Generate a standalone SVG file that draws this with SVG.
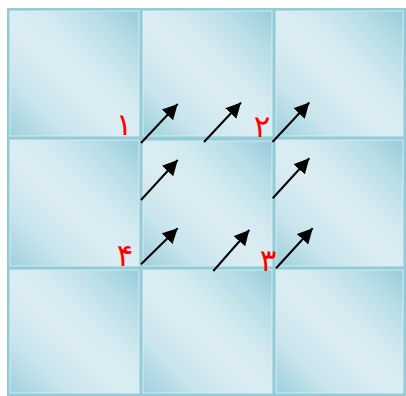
<svg xmlns="http://www.w3.org/2000/svg" width="406" height="396" viewBox="0 0 406 396">
  <defs>
    <linearGradient id="glass" x1="0" y1="1" x2="1" y2="0">
      <stop offset="0" stop-color="#9dd0dc"/>
      <stop offset="0.22" stop-color="#c8e4ec"/>
      <stop offset="0.45" stop-color="#dcedf3"/>
      <stop offset="0.62" stop-color="#d3eaf0"/>
      <stop offset="0.82" stop-color="#b8dde6"/>
      <stop offset="1" stop-color="#96cdda"/>
    </linearGradient>
    <marker id="head" markerUnits="userSpaceOnUse" markerWidth="16" markerHeight="16" refX="15" refY="7.7" orient="auto">
      <path d="M0,0 L15,7.7 L0,15.4 z" fill="#000"/>
    </marker>
    <style>
      .tile { fill: url(#glass); stroke: #e2f1f5; stroke-width: 0.8; }
      .arrow { stroke: #000; stroke-width: 2; fill: none; marker-end: url(#head); }
      .num { font-family: "DejaVu Sans", "Noto Sans", sans-serif; font-size: 31px; fill: #ff0000; text-anchor: middle; }
    </style>
  </defs>
  <rect x="7" y="8" width="399" height="388" fill="#93cbd8"/>
  <g id="tile-r1c1"><rect class="tile" x="10" y="11" width="129" height="125"/></g>
  <g id="tile-r1c2"><rect class="tile" x="143" y="11" width="129" height="125"/></g>
  <g id="tile-r1c3"><rect class="tile" x="276" y="11" width="127" height="125"/></g>
  <g id="tile-r2c1"><rect class="tile" x="10" y="140" width="129" height="126"/></g>
  <g id="tile-r2c2"><rect class="tile" x="143" y="141" width="129" height="125"/></g>
  <g id="tile-r2c3"><rect class="tile" x="276" y="140" width="127" height="126"/></g>
  <g id="tile-r3c1"><rect class="tile" x="10" y="270" width="129" height="123"/></g>
  <g id="tile-r3c2"><rect class="tile" x="143" y="270" width="129" height="123"/></g>
  <g id="tile-r3c3"><rect class="tile" x="276" y="270" width="127" height="123"/></g>
  <g id="connectors">
    <line class="arrow" x1="141" y1="143" x2="177.7" y2="104"/>
    <line class="arrow" x1="204" y1="142" x2="241" y2="102.5"/>
    <line class="arrow" x1="272.5" y1="142" x2="309.3" y2="102.5"/>
    <line class="arrow" x1="141" y1="200" x2="177.7" y2="160"/>
    <line class="arrow" x1="272.7" y1="198.3" x2="309.3" y2="158.3"/>
    <line class="arrow" x1="141" y1="264.3" x2="177.7" y2="228.3"/>
    <line class="arrow" x1="213.3" y1="271" x2="249.3" y2="230"/>
    <line class="arrow" x1="276" y1="268.3" x2="312.7" y2="228.3"/>
  </g>
  <g id="labels">
    <text class="num" x="124" y="135">۱</text>
    <text class="num" x="262" y="137">۲</text>
    <text class="num" x="268" y="271">۳</text>
    <text class="num" x="125" y="266">۴</text>
  </g>
</svg>
